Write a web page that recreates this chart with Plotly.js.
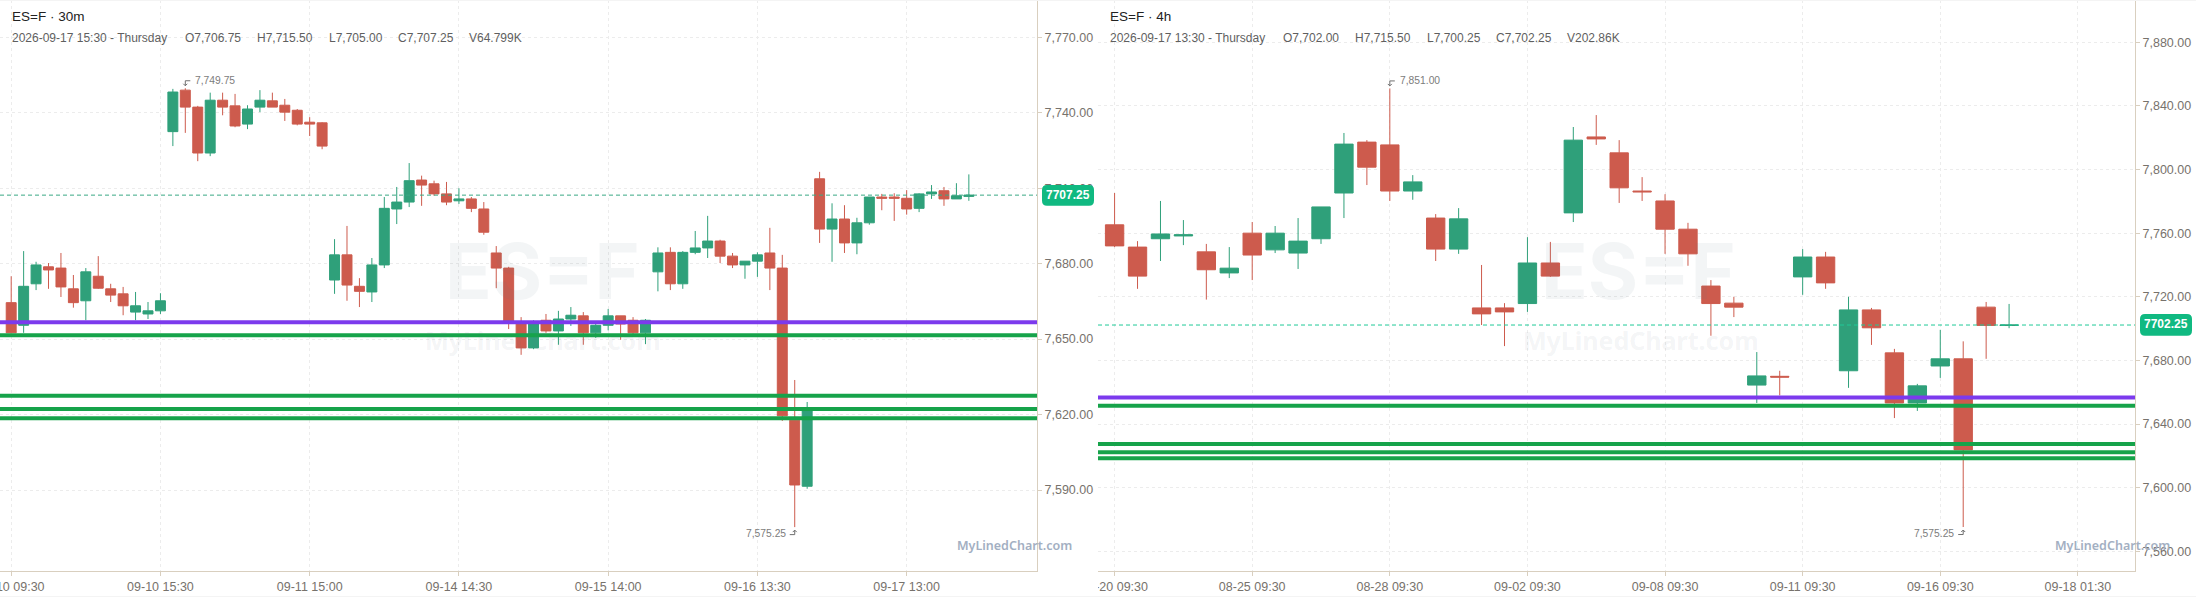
<!DOCTYPE html>
<html><head><meta charset="utf-8">
<script src="https://cdn.plot.ly/plotly-3.0.1.min.js"></script>
<style>
html,body{margin:0;padding:0;background:#fff;width:2196px;height:597px;overflow:hidden}
.p{position:absolute;top:0;width:1098px;height:597px;overflow:hidden}
.e{position:absolute;left:0;width:2196px;height:1px;background:#f4f4f4;z-index:5}
</style></head><body>
<div id="a" class="p" style="left:0"></div>
<div id="b" class="p" style="left:1098px"></div>
<div class="e" style="top:0"></div><div class="e" style="top:596px"></div>
<script>
const levels=[7651.5,7627.5,7622.25,7618.5];
const purpleLevel=7656.75;

const leftOpen=[7664.5,7655.5,7672,7678.75,7678.25,7670,7665.25,7675,7670,7668,7660.75,7660,7661.25,7732.5,7749,7742.25,7724,7745,7742.75,7735.5,7742.25,7744.75,7743,7741,7736.25,7736,7673.5,7683.5,7671,7668.75,7679.5,7701.75,7704.5,7713.25,7711.75,7707.75,7705,7705.75,7701.75,7684.25,7678.25,7656.75,7646.5,7657.5,7653.25,7658,7659.25,7652.5,7655.5,7659.25,7657.5,7652.5,7676.75,7684.5,7672,7684.5,7686.25,7689,7683,7679.5,7681,7684.25,7678.25,7617.75,7591.5,7713.75,7693.75,7697.75,7688.25,7696.25,7706.5,7706.5,7706,7702,7707.75,7709,7705.75,7706.75];
const leftHigh=[7675,7685,7680.75,7680.25,7684.25,7675.5,7678.25,7683,7672,7670.75,7668.75,7664.75,7668.25,7749.5,7749.75,7742.75,7748,7748,7747.5,7743,7749,7748,7745.5,7741.5,7738.25,7736.25,7689.75,7695,7674.25,7682.25,7706.5,7710.5,7720,7715,7713,7712.5,7710,7706.5,7704.5,7687,7678.75,7658.75,7657.5,7660,7661.25,7662.75,7660.75,7656,7662,7659.25,7658.75,7658,7686.5,7686.5,7685,7693,7699,7689.5,7684.25,7681,7684.5,7694.25,7683.5,7633.75,7625,7716.5,7704,7703.25,7698.25,7706.5,7707.75,7708,7709.25,7708,7711.25,7710.5,7712,7715.5];
const leftLow=[7652.25,7652.5,7669.5,7670,7666.75,7662.5,7657.5,7670,7664.75,7659.5,7657.5,7658,7660,7726.75,7732,7720.75,7722.75,7739,7734.25,7733.5,7740.25,7742.25,7736.75,7735,7730.75,7725.5,7668,7665.25,7662.75,7664.75,7678.25,7695.75,7702.5,7703,7707,7703.25,7703.75,7700.5,7691.5,7670.25,7654,7643.75,7646,7652.5,7647.75,7655.25,7647.75,7650.5,7653.5,7649.75,7652,7648,7669,7669.5,7670,7683.75,7682.25,7680.25,7678.25,7674,7674.75,7669.5,7617.5,7575.25,7590.5,7688.25,7680.75,7684.25,7683.75,7695.5,7701.25,7697,7699.5,7700.5,7705.75,7703,7705.75,7705];
const leftClose=[7652.5,7671,7679.5,7677.5,7670.75,7664.5,7676.75,7670.25,7667.5,7663.25,7663.25,7661.25,7665.25,7748.25,7742.25,7724,7745,7742.25,7734.75,7741.5,7745,7742.25,7740.25,7735.5,7735.5,7726.75,7683.5,7671.5,7669,7679.5,7702,7704.5,7713,7711.25,7707.75,7704.5,7705.75,7702,7692.5,7678.25,7656.75,7646.5,7656.75,7653.25,7658,7659.5,7652.5,7655.5,7659.25,7656,7652.5,7657.5,7684.25,7672,7684.5,7686.25,7689,7683,7679.5,7681,7683.5,7678.25,7619.5,7592,7621.75,7693.75,7697.75,7688.25,7696.25,7706.5,7706,7706,7701.75,7707.75,7708.5,7705.75,7707,7707.25];
const leftTickLabels=["09-10 09:30","09-10 15:30","09-11 15:00","09-14 14:30","09-15 14:00","09-16 13:30","09-17 13:00"];
const leftTickBars=[0,12,24,36,48,60,72];
const leftPrices=[7770,7740,7710,7680,7650,7620,7590];

const rightOpen=[7765.25,7751.25,7756.5,7758.25,7748.25,7735,7760,7749.5,7747.5,7756.5,7785.25,7817.25,7815.5,7786.5,7769.5,7750,7713,7713,7715.75,7741.25,7772.75,7820.5,7810.5,7786.5,7780.25,7762.5,7726.75,7716,7664.5,7670,7732.5,7745,7673.5,7711.75,7684.75,7653.25,7676.5,7681,7713.5,7702];
const rightHigh=[7785.25,7755,7780.25,7768.25,7753.25,7751.25,7767,7764.5,7769.5,7776.5,7823,7818.5,7851,7796.5,7772,7775.75,7740,7716,7757.5,7754.5,7826.75,7834.25,7818.5,7795.25,7784.5,7766.5,7730.5,7720,7685.25,7673.5,7750,7748.25,7720,7713,7687.25,7665.25,7699.25,7692,7716.75,7715.5];
const rightLow=[7751.25,7725,7742.5,7752.5,7718.25,7731.75,7730.5,7747.5,7737.5,7753.25,7769.5,7790.25,7780.25,7781,7742.5,7747,7702.25,7689,7710.5,7732.5,7767,7815.5,7779,7780.25,7747,7739.5,7695.5,7707.25,7653.25,7658,7721.25,7725,7662.75,7689.75,7643.75,7648.25,7669,7575.25,7681,7700.25];
const rightClose=[7752,7733,7759.5,7759,7737,7738,7746.25,7760,7755,7776.5,7816,7801.5,7786.5,7792.25,7750,7769,7709.25,7710.5,7741.25,7733,7818.5,7819.25,7788.5,7786,7762.5,7747,7715.75,7713.5,7670.25,7669.5,7745,7728.75,7711.75,7700.5,7653.25,7664,7681,7623.75,7702,7702.25];
const rightTickLabels=["08-20 09:30","08-25 09:30","08-28 09:30","09-02 09:30","09-08 09:30","09-11 09:30","09-16 09:30","09-18 01:30"];
const rightTickBars=[0,6,12,18,24,30,36,42];
const rightPrices=[7880,7840,7800,7760,7720,7680,7640,7600,7560];

const GREEN='#2fa07a',RED='#cd5b4d',AXIS='#d9cfbf',GRID='#ececec',TXT='#77726c';
const FONT='"Liberation Sans", Arial, sans-serif';
const W=1037,H=571;
const px=x=>x/W, py=y=>1-y/H;

function note(x,y,text,size,color,extra){
  return Object.assign({xref:'paper',yref:'paper',x:px(x-2),y:py(y),xanchor:'left',yanchor:'middle',showarrow:false,text:text,
    font:{family:FONT,size:size,color:color}},extra||{});
}
function tag(x0,x1,y0,y1){
  const r=5,X0=px(x0),X1=px(x1),Y0=py(y0),Y1=py(y1),rx=r/W,ry=r/H;
  return {type:'path',xref:'paper',yref:'paper',layer:'above',fillcolor:'#10b981',line:{width:0},
    path:`M ${X0+rx} ${Y0} L ${X1-rx} ${Y0} Q ${X1} ${Y0} ${X1} ${Y0-ry} L ${X1} ${Y1+ry} Q ${X1} ${Y1} ${X1-rx} ${Y1} L ${X0+rx} ${Y1} Q ${X0} ${Y1} ${X0} ${Y1+ry} L ${X0} ${Y0-ry} Q ${X0} ${Y0} ${X0+rx} ${Y0} Z`};
}
function elbow(xa,ya,path){
  return {type:'path',xref:'x',yref:'y',xsizemode:'pixel',ysizemode:'pixel',xanchor:xa,yanchor:ya,path:path,line:{color:'#6f6f6f',width:1},layer:'above'};
}
function draw(id,cfg){
  const xs=cfg.open.map((_,i)=>i);
  const shapes=[
    {type:'line',xref:'paper',x0:0,x1:1,yref:'y',y0:cfg.last,y1:cfg.last,line:{color:cfg.lastColor,width:1,dash:'4px,3px'},layer:'above'},
    {type:'line',xref:'paper',x0:0,x1:1,yref:'y',y0:purpleLevel,y1:purpleLevel,line:{color:'#7c3aed',width:4},layer:'above'}
  ].concat(levels.map(v=>({type:'line',xref:'paper',x0:0,x1:1,yref:'y',y0:v,y1:v,line:{color:'#16a34a',width:4},layer:'above'})));
  shapes.push(tag(1042,1094,cfg.tagY0,cfg.tagY1));
  shapes.push(elbow(cfg.hiBar,cfg.hi,'M 5 7.5 L 0 7.5 L 0 2.5 M -2 4.5 L 0 2.5 L 2 4.5'));
  shapes.push(elbow(cfg.loBar,cfg.lo,'M -5 -7.5 L 0 -7.5 L 0 -3 M -2 -5 L 0 -3 L 2 -5'));
  const fmt=v=>v.toLocaleString('en-US',{minimumFractionDigits:2,maximumFractionDigits:2});
  const ann=[
    note(12,16,cfg.title,13.5,'#222'),
    note(12,37.5,cfg.date,12,'#5f5f5f'),
    note(185,37.5,cfg.ohlcv[0],12,'#5f5f5f'),
    note(257,37.5,cfg.ohlcv[1],12,'#5f5f5f'),
    note(329,37.5,cfg.ohlcv[2],12,'#5f5f5f'),
    note(398,37.5,cfg.ohlcv[3],12,'#5f5f5f'),
    note(469,37.5,cfg.ohlcv[4],12,'#5f5f5f'),
    note(cfg.wmX,271,'ES=F',77,'rgba(100,116,139,0.075)',{font:{family:'Inter,sans-serif',size:77,weight:700,color:'rgba(100,116,139,0.075)'}}),
    note(cfg.wmX2,340,'MyLinedChart.com',25,'rgba(100,116,139,0.085)',{font:{family:'"Noto Sans",sans-serif',size:25,weight:700,color:'rgba(100,116,139,0.085)'}}),
    note(cfg.brandX,545,'MyLinedChart.com',12.5,'#a3afc2',{font:{family:'"Noto Sans",sans-serif',size:12.5,weight:600,color:'#a3afc2'}}),
    note(1070,cfg.tagY0+10.3,String(cfg.last.toFixed(2)),12,'#fff',{xanchor:'center',font:{family:FONT,size:12,weight:700,color:'#fff'}}),
    {xref:'x',yref:'y',x:cfg.hiBar,y:cfg.hi,xshift:8,yshift:7.6,xanchor:'left',yanchor:'middle',showarrow:false,text:fmt(cfg.hi),font:{family:FONT,size:10.3,color:'#7c7c7c'}},
    {xref:'x',yref:'y',x:cfg.loBar,y:cfg.lo,xshift:-7,yshift:-6.8,xanchor:'right',yanchor:'middle',showarrow:false,text:fmt(cfg.lo),font:{family:FONT,size:10.3,color:'#7c7c7c'}}
  ];
  Plotly.newPlot(id,[{
    type:'candlestick',x:xs,open:cfg.open,high:cfg.high,low:cfg.low,close:cfg.close,whiskerwidth:0,hoverinfo:'skip',
    increasing:{line:{color:GREEN,width:1},fillcolor:GREEN},
    decreasing:{line:{color:RED,width:1},fillcolor:RED}
  }],{
    width:1098,height:597,margin:{l:0,r:61,t:0,b:26,pad:0},paper_bgcolor:'#fff',plot_bgcolor:'#fff',showlegend:false,
    boxgap:0.2,boxgroupgap:0,dragmode:false,font:{family:FONT,size:13,color:TXT},
    xaxis:{type:'linear',range:cfg.xr,rangeslider:{visible:false},tickmode:'array',tickvals:cfg.tickBars,ticktext:cfg.tickLabels,
      ticklabeloverflow:'allow',
      showgrid:true,gridcolor:GRID,griddash:'3px,3px',gridwidth:1,zeroline:false,showline:true,linecolor:AXIS,linewidth:1,
      ticks:'outside',ticklen:4,tickcolor:AXIS,tickfont:{family:FONT,size:12.5,color:TXT}},
    yaxis:{side:'right',range:cfg.yr,tickmode:'array',tickvals:cfg.prices,ticktext:cfg.prices.map(fmt),
      showgrid:true,gridcolor:GRID,griddash:'3px,3px',gridwidth:1,zeroline:false,showline:true,linecolor:AXIS,linewidth:1,
      ticks:'outside',ticklen:4,tickcolor:AXIS,tickfont:{family:FONT,size:12.5,color:TXT}},
    shapes:shapes,annotations:ann
  },{staticPlot:true,displayModeBar:false});
}
draw('a',{open:leftOpen,high:leftHigh,low:leftLow,close:leftClose,xr:[-0.9,82.48],yr:[7557.8,7784.84],
  tickBars:leftTickBars,tickLabels:leftTickLabels,prices:leftPrices,last:7707.25,lastColor:'#3aa885',tagY0:185,tagY1:205.7,
  title:'ES=F · 30m',date:'2026-09-17 15:30 - Thursday',ohlcv:['O7,706.75','H7,715.50','L7,705.00','C7,707.25','V64.799K'],
  hiBar:14,hi:7749.75,loBar:63,lo:7575.25,wmX:445,wmX2:425,brandX:957});
draw('b',{open:rightOpen,high:rightHigh,low:rightLow,close:rightClose,xr:[-0.7235,44.49],yr:[7547.6,7906.6],
  tickBars:rightTickBars,tickLabels:rightTickLabels,prices:rightPrices,last:7702.25,lastColor:'#20c997',tagY0:314,tagY1:335.7,
  title:'ES=F · 4h',date:'2026-09-17 13:30 - Thursday',ohlcv:['O7,702.00','H7,715.50','L7,700.25','C7,702.25','V202.86K'],
  hiBar:12,hi:7851,loBar:37,lo:7575.25,wmX:443,wmX2:425,brandX:957});
</script>
</body></html>
